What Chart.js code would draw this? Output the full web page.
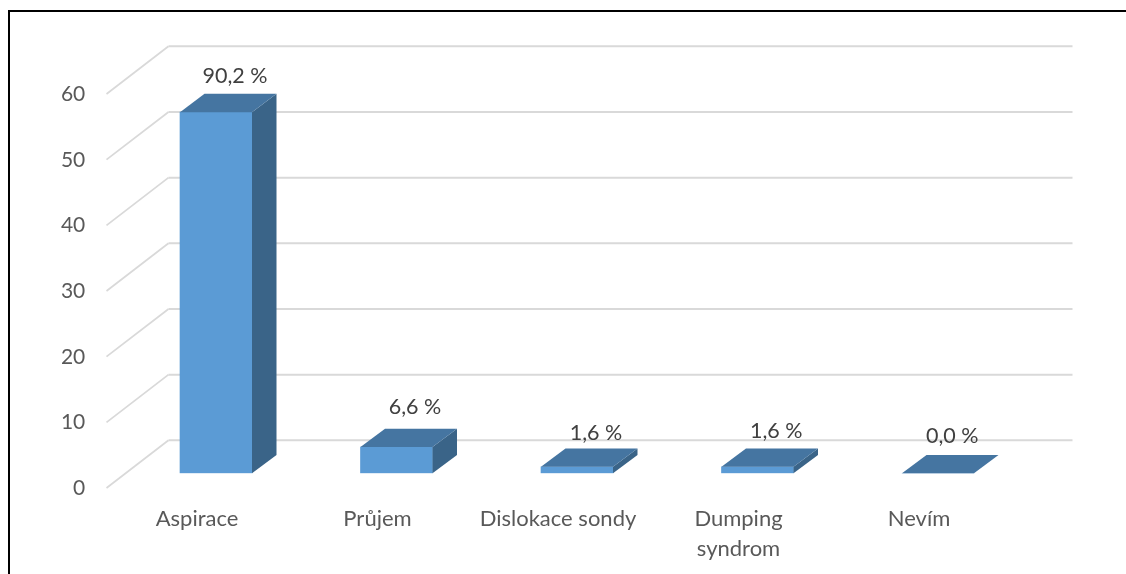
<!DOCTYPE html>
<html lang="cs">
<head>
<meta charset="utf-8">
<title>Komplikace</title>
<script src="https://cdn.jsdelivr.net/npm/chart.js@4"></script>
<style>
    html, body { margin: 0; padding: 0; background: #fff; overflow: hidden; }
    #frame {
        position: absolute; left: 8px; top: 10px; right: 0; bottom: 0;
        border-top: 2px solid #000; border-left: 2px solid #000;
    }
    #chart { position: absolute; left: 0; top: 0; }
</style>
</head>
<body>
<div id="frame"></div>
<canvas id="chart" width="1126" height="574"></canvas>
<script>
    const categories = ["Aspirace", "Průjem", "Dislokace sondy", ["Dumping", "syndrom"], "Nevím"];
    const counts = [55, 4, 1, 1, 0];
    const percentLabels = ["90,2 %", "6,6 %", "1,6 %", "1,6 %", "0,0 %"];
    const yTicks = [0, 10, 20, 30, 40, 50, 60];

    // Depth of the bars and of the walls, in pixels
    const barDepth = { x: 24.5, y: 18.3 };
    const wallDepth = { x: 62, y: 33 };
    const wallFront = { x: 106.5, y: 14.7 };

    // Offset of each value label from the top of its bar
    const labelShift = [[19, 36], [18.5, 39.6], [19, 34], [18.7, 36], [14.3, 37.6]];

    const gridColor = '#d9d9d9';
    const tickColor = '#595959';
    const valueColor = '#404040';
    const fontFamily = 'Lato, "Open Sans", sans-serif';

    function fillShape(ctx, points, color) {
        ctx.beginPath();
        points.forEach((p, i) => i ? ctx.lineTo(p[0], p[1]) : ctx.moveTo(p[0], p[1]));
        ctx.closePath();
        ctx.fillStyle = color;
        ctx.fill();
    }

    // Back wall and side wall lines, drawn under the bars
    const wallsPlugin = {
        id: 'walls',
        beforeDatasetsDraw(chart) {
            const ctx = chart.ctx;
            const yScale = chart.scales.y;
            ctx.save();
            ctx.strokeStyle = gridColor;
            yTicks.forEach(tick => {
                const py = yScale.getPixelForValue(tick);
                ctx.lineWidth = 1.75;
                ctx.beginPath();
                ctx.moveTo(wallFront.x, py + wallFront.y);
                ctx.lineTo(wallFront.x + wallDepth.x, py - wallDepth.y);
                ctx.stroke();
                ctx.lineWidth = 2;
                ctx.beginPath();
                ctx.moveTo(wallFront.x + wallDepth.x, py - wallDepth.y);
                ctx.lineTo(1072.5, py - wallDepth.y);
                ctx.stroke();
            });
            ctx.restore();
        }
    };

    // Top and right faces of each bar, taken from the bar elements
    const depthPlugin = {
        id: 'barDepth',
        afterDatasetsDraw(chart) {
            const ctx = chart.ctx;
            const dx = barDepth.x;
            const dy = barDepth.y;
            chart.getDatasetMeta(0).data.forEach(bar => {
                const left = bar.x - bar.width / 2;
                const right = bar.x + bar.width / 2;
                if (bar.base > bar.y) {
                    fillShape(ctx, [[right, bar.y], [right + dx, bar.y - dy], [right + dx, bar.base - dy], [right, bar.base]], '#3a6488');
                }
                fillShape(ctx, [[left, bar.y], [left + dx, bar.y - dy], [right + dx, bar.y - dy], [right, bar.y]], '#4575a1');
            });

            ctx.save();
            ctx.font = '21.5px ' + fontFamily;
            ctx.fillStyle = valueColor;
            ctx.textAlign = 'center';
            ctx.textBaseline = 'middle';
            chart.getDatasetMeta(0).data.forEach((bar, i) => {
                ctx.fillText(percentLabels[i], bar.x + labelShift[i][0], bar.y - labelShift[i][1]);
            });
            ctx.restore();
        }
    };

    new Chart(document.getElementById('chart'), {
        type: 'bar',
        data: {
            labels: categories,
            datasets: [{
                data: counts,
                backgroundColor: '#5b9bd5',
                borderWidth: 0,
                barThickness: 72
            }]
        },
        options: {
            responsive: false,
            animation: false,
            layout: { padding: { top: 79.3, right: 97.75, bottom: 0, left: 0 } },
            plugins: {
                legend: { display: false },
                tooltip: { enabled: false }
            },
            scales: {
                x: {
                    grid: { display: false, drawTicks: false },
                    border: { display: false },
                    afterFit(scale) { scale.height = 100.7; },
                    ticks: {
                        color: tickColor,
                        font: { family: fontFamily, size: 22, lineHeight: 1.36 },
                        padding: 30.3,
                        labelOffset: -19,
                        maxRotation: 0,
                        minRotation: 0,
                        autoSkip: false
                    }
                },
                y: {
                    min: 0,
                    max: 60,
                    grid: { display: false, drawTicks: false },
                    border: { display: false },
                    afterFit(scale) { scale.width = 125.75; },
                    ticks: {
                        color: tickColor,
                        font: { family: fontFamily, size: 21 },
                        stepSize: 10,
                        padding: 40.5,
                        labelOffset: 15
                    }
                }
            }
        },
        plugins: [wallsPlugin, depthPlugin]
    });
</script>
</body>
</html>
